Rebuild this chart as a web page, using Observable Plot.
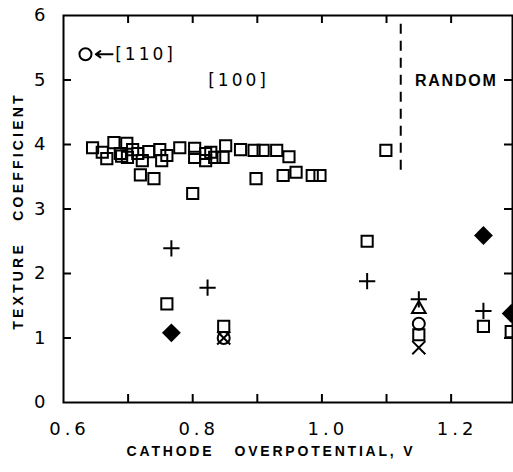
<!DOCTYPE html>
<html>
<head>
<meta charset="utf-8">
<script src="https://cdn.jsdelivr.net/npm/d3@7"></script>
<script src="https://cdn.jsdelivr.net/npm/@observablehq/plot@0.6"></script>
<style>
  html, body { margin: 0; padding: 0; background: #fff; }
  svg { font-family: "Liberation Sans", Arial, sans-serif; }
  g[aria-label="x-axis tick label"] text { letter-spacing: 4px; }
  g[aria-description="xtitle"] text { letter-spacing: 2.8px; white-space: pre; }
  g[aria-description="ytitle"] text { letter-spacing: 3.2px; white-space: pre; }
  g[aria-description="random"] text { letter-spacing: 1.8px; }
  g[aria-description="miller"] text { letter-spacing: 3px; }
</style>
</head>
<body>
<div id="chart"></div>
<script>
// ---- data ----
const squareX = [0.645,0.660,0.667,0.678,0.688,0.690,0.698,0.699,0.707,0.715,0.722,0.732,0.749,0.719,0.740,0.752,0.760,0.780,0.803,0.803,0.800,0.820,0.820,0.828,0.834,0.851,0.847,0.874,0.895,0.909,0.930,0.949,0.898,0.940,0.960,0.985,0.997,1.099,0.760,0.848,1.070,1.250,1.150,1.293];
const squareY = [3.95,3.88,3.78,4.03,3.86,3.82,4.02,3.80,3.92,3.86,3.75,3.89,3.92,3.53,3.47,3.75,3.83,3.95,3.94,3.80,3.24,3.86,3.75,3.88,3.80,3.98,3.80,3.92,3.91,3.91,3.91,3.81,3.47,3.52,3.57,3.52,3.52,3.91,1.53,1.18,2.50,1.18,1.05,1.10];
const plusX = [0.767,0.823,1.070,1.150,1.250];
const plusY = [2.39,1.78,1.88,1.60,1.42];
const diamondX = [0.767,1.250,1.293];
const diamondY = [1.08,2.59,1.38];
const circleX = [0.634,0.848,1.150];
const circleY = [5.40,1.00,1.22];
const triangleX = [1.150];
const triangleY = [1.45];
const crossX = [0.848,1.150];
const crossY = [1.00,0.85];

const xTicks = [0.6,0.8,1.0,1.2];
const xMinor = [0.7,0.8,0.9,1.0,1.1,1.2];
const yTicks = [0,1,2,3,4,5,6];
const yMinor = [1,2,3,4,5];
const xDomain = [0.6,1.295];
const yDomain = [0,6];

// annotations
const boundaryX = 1.122;
const boundaryY = [3.6,5.93];
const labelTexts = ["[110]","[100]"];
const labelX = [0.727,0.871];
const labelY = [5.40,4.99];
const randomX = 1.208, randomY = 4.99;
const arrowFrom = [0.676,5.40], arrowTo = [0.650,5.40];

const pts = (xs, ys) => xs.map((x,i) => ({x, y: ys[i]}));
const FH = 387, FW = 449, TL = 8; // frame size (px) and inward tick length

const chart = Plot.plot({
  width: 513,
  height: 472,
  marginLeft: 63,
  marginRight: 1,
  marginTop: 15,
  marginBottom: 70,
  x: {domain: xDomain},
  y: {domain: yDomain},
  style: {background: "#fff", color: "#000"},
  marks: [
    Plot.frame({stroke: "#000", strokeWidth: 2}),
    // inward ticks
    Plot.tickX(xMinor, {x: d => d, stroke: "#000", strokeWidth: 2, insetTop: FH - TL}),
    Plot.tickX(xMinor, {x: d => d, stroke: "#000", strokeWidth: 2, insetBottom: FH - TL}),
    Plot.tickY(yMinor, {y: d => d, stroke: "#000", strokeWidth: 2, insetRight: FW - TL}),
    Plot.tickY(yMinor, {y: d => d, stroke: "#000", strokeWidth: 2, insetLeft: FW - TL}),
    // tick labels
    Plot.axisX({anchor: "bottom", ticks: xTicks, tickSize: 0, tickPadding: 20, fontSize: 18, fontFamily: "DejaVu Sans",
      tickFormat: d => d3.format(".1f")(d), label: null, dx: 6}),
    Plot.axisY({anchor: "left", ticks: yTicks, tickSize: 0, tickPadding: 18, fontSize: 18, fontFamily: "DejaVu Sans",
      tickFormat: d => String(d), label: null}),
    // axis titles
    Plot.text(["TEXTURE   COEFFICIENT"], {frameAnchor: "left", textAnchor: "middle", rotate: -90, dx: -45, dy: 2,
      fontSize: 14, fontWeight: "bold", fill: "#000", ariaDescription: "ytitle"}),
    Plot.text(["CATHODE   OVERPOTENTIAL, V"], {frameAnchor: "bottom", textAnchor: "middle", dy: 53, dx: -17,
      fontSize: 14, fontWeight: "bold", fill: "#000", ariaDescription: "xtitle"}),
    // boundary
    Plot.ruleX([boundaryX], {y1: boundaryY[0], y2: boundaryY[1], stroke: "#000", strokeWidth: 2, strokeDasharray: "10,7"}),
    // annotations
    Plot.text(labelTexts, {x: (d,i) => labelX[i], y: (d,i) => labelY[i], fontSize: 17, fontFamily: "DejaVu Sans", ariaDescription: "miller"}),
    Plot.text(["RANDOM"], {x: [randomX], y: [randomY], fontSize: 16, fontWeight: "bold", ariaDescription: "random"}),
    Plot.arrow([0], {x1: arrowFrom[0], y1: arrowFrom[1], x2: arrowTo[0], y2: arrowTo[1], stroke: "#000", strokeWidth: 2, headLength: 7, headAngle: 70}),
    // data
    Plot.dot(pts(squareX, squareY), {x: "x", y: "y", symbol: "square", r: 6.3, fill: "none", stroke: "#000", strokeWidth: 2, clip: true}),
    Plot.dot(pts(circleX, circleY), {x: "x", y: "y", symbol: "circle", r: 6, fill: "none", stroke: "#000", strokeWidth: 2, clip: true}),
    Plot.dot(pts(triangleX, triangleY), {x: "x", y: "y", symbol: "triangle2", r: 6.5, fill: "none", stroke: "#000", strokeWidth: 2, clip: true}),
    Plot.dot(pts(crossX, crossY), {x: "x", y: "y", symbol: "times", r: 6, fill: "none", stroke: "#000", strokeWidth: 2, clip: true}),
    Plot.dot(pts(plusX, plusY), {x: "x", y: "y", symbol: "plus", r: 5.3, fill: "none", stroke: "#000", strokeWidth: 2, clip: true}),
    Plot.dot(pts(diamondX, diamondY), {x: "x", y: "y", symbol: "diamond2", r: 8.5, fill: "#000", stroke: "none", clip: true})
  ]
});
document.getElementById("chart").appendChild(chart);
</script>
</body>
</html>
